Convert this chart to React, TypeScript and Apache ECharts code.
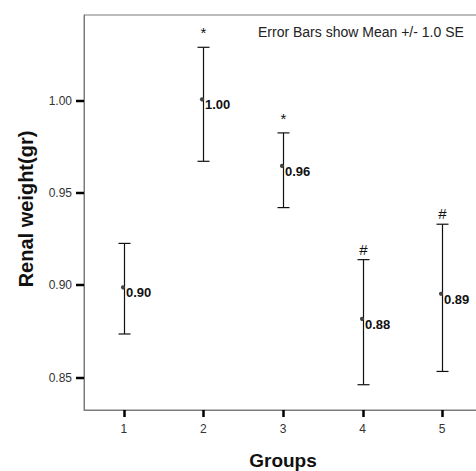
import React, { useEffect, useRef } from "react";
import * as echarts from "echarts";

const categories = ["1", "2", "3", "4", "5"];
const means = [0.899, 1.0009, 0.9648, 0.8819, 0.8955];
const upper = [0.9228, 1.0291, 0.9827, 0.914, 0.9332];
const lower = [0.8737, 0.9673, 0.9422, 0.8462, 0.8534];
const meanLabels = ["0.90", "1.00", "0.96", "0.88", "0.89"];
const sigMarks = ["", "*", "*", "#", "#"];
const yTicks = [0.85, 0.9, 0.95, 1.0];
const yMin = 0.8325;
const yMax = 1.0466;
const yTitle = "Renal weight(gr)";
const xTitle = "Groups";
const note = "Error Bars show Mean +/- 1.0 SE";

const FONT = "'Liberation Sans', Arial, sans-serif";

export default function App() {
  const ref = useRef<HTMLDivElement>(null);
  useEffect(() => {
    if (!ref.current) return;
    const chart = echarts.init(ref.current, null, { renderer: "svg" });
    const data = categories.map((_, i) => [i, means[i], lower[i], upper[i]]);
    chart.setOption({
      animation: false,
      backgroundColor: "#ffffff",
      textStyle: { fontFamily: FONT },
      grid: {
        left: 84,
        top: 15,
        bottom: 61,
        right: 0,
        show: true,
        borderColor: "#7a7a7a",
        borderWidth: 1,
      },
      xAxis: {
        type: "category",
        data: categories,
        boundaryGap: true,
        axisLine: { show: true, lineStyle: { color: "#7a7a7a", width: 1 } },
        axisTick: { show: false },
        axisLabel: { color: "#333", fontSize: 12, margin: 13, fontFamily: FONT },
        splitLine: { show: false },
      },
      yAxis: {
        type: "value",
        min: yMin,
        max: yMax,
        axisLine: { show: true, lineStyle: { color: "#7a7a7a", width: 1 } },
        axisTick: { show: false },
        axisLabel: {
          customValues: yTicks,
          color: "#333",
          fontSize: 12,
          margin: 12,
          fontFamily: FONT,
          formatter: (v: number) => v.toFixed(2),
        },
        splitLine: { show: false },
      },
      graphic: [
        {
          type: "text",
          x: 26,
          y: 209,
          rotation: Math.PI / 2,
          style: {
            text: yTitle,
            align: "center",
            verticalAlign: "middle",
            font: `bold 20px ${FONT}`,
            fill: "#111",
          },
        },
        {
          type: "text",
          x: 283,
          y: 460,
          style: {
            text: xTitle,
            align: "center",
            verticalAlign: "middle",
            font: `bold 19px ${FONT}`,
            fill: "#111",
          },
        },
        {
          type: "text",
          x: 258,
          y: 32,
          style: {
            text: note,
            align: "left",
            verticalAlign: "middle",
            font: `14px ${FONT}`,
            fill: "#222",
          },
        },
      ],
      series: [
        {
          type: "custom",
          clip: false,
          encode: { x: 0, y: [1, 2, 3] },
          data,
          renderItem: (params: any, api: any) => {
            const i = api.value(0);
            const p = api.coord([i, api.value(1)]);
            const lo = api.coord([i, api.value(2)]);
            const hi = api.coord([i, api.value(3)]);
            const x = Math.round(p[0]) + 0.5;
            const stroke = { stroke: "#111", lineWidth: 1.2 };
            const axisY = Math.round(api.coord([i, yMin])[1]);
            const c0 = api.coord([0, yMin])[0];
            const c1 = api.coord([1, yMin])[0];
            const axisX = Math.round(c0 - (c1 - c0) / 2);
            const children: any[] = [
              { type: "rect", shape: { x: x - 1.25, y: axisY, width: 2.5, height: 7 }, style: { fill: "#000" } },
              { type: "line", shape: { x1: x, y1: hi[1], x2: x, y2: lo[1] }, style: stroke },
              { type: "line", shape: { x1: x - 6, y1: hi[1], x2: x + 6, y2: hi[1] }, style: stroke },
              { type: "line", shape: { x1: x - 6, y1: lo[1], x2: x + 6, y2: lo[1] }, style: stroke },
              { type: "circle", shape: { cx: x - 1.5, cy: p[1], r: 2.1 }, style: { fill: "#444" } },
              {
                type: "text",
                x: x + 1.5,
                y: p[1] + 5.5,
                style: {
                  text: meanLabels[params.dataIndex],
                  align: "left",
                  verticalAlign: "middle",
                  font: `bold 13px ${FONT}`,
                  fill: "#111",
                },
              },
            ];
            if (params.dataIndex === 0) {
              yTicks.forEach((v) => {
                const ty = Math.round(api.coord([0, v])[1]);
                children.push({
                  type: "rect",
                  shape: { x: axisX - 8, y: ty - 1.25, width: 8, height: 2.5 },
                  style: { fill: "#000" },
                });
              });
            }
            const mark = sigMarks[params.dataIndex];
            if (mark) {
              children.push({
                type: "text",
                x: x,
                y: hi[1] - (mark === "*" ? 7 : 3),
                style: {
                  text: mark,
                  align: "center",
                  verticalAlign: "bottom",
                  font: `15px ${FONT}`,
                  fill: "#111",
                },
              });
            }
            return { type: "group", children };
          },
        },
      ],
    });
    return () => chart.dispose();
  }, []);
  return (
    <div
      style={{
        position: "absolute",
        left: 0,
        top: 0,
        width: 476,
        height: 471,
        overflow: "hidden",
      }}
    >
      <div ref={ref} style={{ width: 482, height: 471 }} />
    </div>
  );
}
